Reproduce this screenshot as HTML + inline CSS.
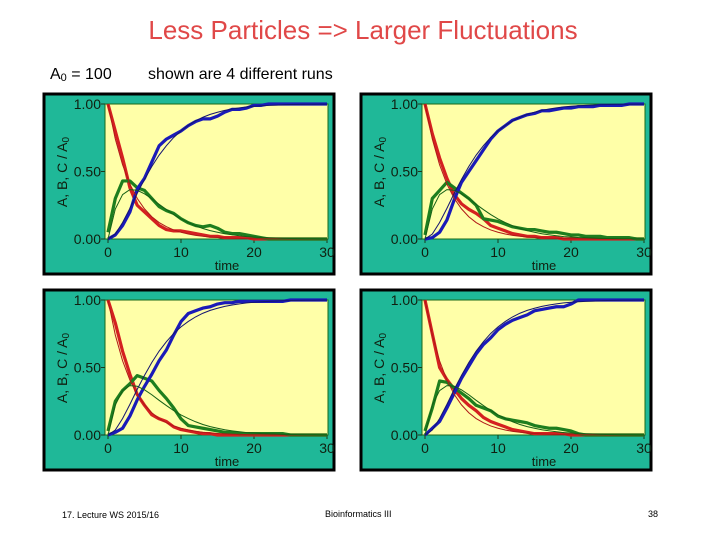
<!DOCTYPE html>
<html><head><meta charset="utf-8"><style>
html,body{margin:0;padding:0;background:#fff;width:720px;height:540px;overflow:hidden}
svg{display:block;font-family:"Liberation Sans",Arial,sans-serif}
</style></head><body>
<svg id="s" width="720" height="540" viewBox="0 0 720 540">
<text x="363" y="39" text-anchor="middle" font-size="26" fill="#e04848">Less Particles =&gt; Larger Fluctuations</text>
<text x="50" y="79" font-size="16" fill="#000">A<tspan font-size="11" dy="2">0</tspan><tspan dy="-2"> = 100</tspan></text>
<text x="148" y="79" font-size="16" fill="#000">shown are 4 different runs</text>
<text x="62" y="518" font-size="9" fill="#000">17. Lecture WS 2015/16</text>
<text x="325" y="517" font-size="9" fill="#000">Bioinformatics III</text>
<text x="648" y="517" font-size="9" fill="#000">38</text>
</svg>
<script>
const times=[0,1,2,3,4,5,6,7,8,9,10,11,12,13,14,15,16,17,18,19,20,21,22,23,24,25,26,27,28,29,30];
const xTicks=[0,10,20,30];
const yTicks=[0,0.5,1];
const yTickLabels=["0.00","0.50","1.00"];
const theoryA=[1,.741,.549,.407,.301,.223,.165,.122,.091,.067,.050,.037,.027,.020,.015,.011,.008,.006,.005,.003,.002,.002,.001,.001,.001,0,0,0,0,0,0];
const theoryB=[0,.222,.329,.366,.361,.335,.298,.257,.218,.181,.149,.122,.098,.078,.062,.050,.039,.031,.024,.018,.015,.011,.009,.007,.005,.004,.003,.002,.002,.001,.001];
const theoryC=[0,.037,.122,.227,.338,.442,.537,.621,.691,.752,.801,.841,.875,.902,.923,.939,.953,.963,.971,.979,.983,.987,.990,.992,.994,.996,.997,.998,.998,.999,.999];
const run1A=[1,.8,.6,.38,.25,.2,.15,.1,.07,.06,.06,.05,.04,.03,.02,.02,.01,.01,.01,.01,0,0,0,0,0,0,0,0,0,0,0];
const run1B=[.05,.3,.43,.43,.38,.36,.3,.24,.21,.19,.15,.12,.1,.09,.1,.08,.05,.04,.04,.03,.02,.01,0,0,0,0,0,0,0,0,0];
const run1C=[0,.03,.1,.2,.37,.45,.57,.69,.74,.77,.8,.84,.87,.89,.89,.91,.94,.96,.96,.97,.99,.99,1,1,1,1,1,1,1,1,1];
const run2A=[1,.78,.6,.45,.33,.26,.22,.19,.15,.1,.08,.06,.04,.03,.02,.02,.01,.01,.01,0,0,0,0,0,0,0,0,0,0,0,0];
const run2B=[.03,.3,.36,.42,.38,.34,.3,.25,.15,.14,.13,.11,.09,.08,.07,.07,.06,.05,.05,.04,.03,.03,.02,.02,.02,.01,.01,.01,.01,0,0];
const run2C=[0,.01,.05,.14,.29,.42,.5,.58,.66,.74,.8,.84,.88,.9,.92,.93,.95,.95,.96,.97,.97,.98,.98,.98,.99,.99,.99,.99,1,1,1];
const run3A=[1,.83,.62,.45,.3,.22,.15,.12,.1,.06,.04,.03,.02,.01,.01,0,0,0,0,0,0,0,0,0,0,0,0,0,0,0,0];
const run3B=[.03,.25,.33,.38,.44,.42,.4,.33,.27,.2,.12,.07,.06,.05,.04,.03,.02,.02,.01,.01,.01,.01,.01,.01,.01,0,0,0,0,0,0];
const run3C=[0,.02,.05,.14,.26,.36,.45,.55,.63,.74,.84,.9,.92,.94,.95,.97,.98,.98,.99,.99,.99,.99,.99,.99,.99,1,1,1,1,1,1];
const run4A=[1,.75,.5,.41,.34,.27,.22,.18,.13,.1,.08,.06,.04,.03,.02,.01,.01,.01,.01,.01,0,0,0,0,0,0,0,0,0,0,0];
const run4B=[.03,.2,.4,.39,.35,.31,.27,.22,.2,.18,.14,.12,.11,.1,.09,.07,.06,.05,.05,.04,.03,.01,0,0,0,0,0,0,0,0,0];
const run4C=[0,.05,.1,.2,.31,.42,.51,.6,.67,.72,.78,.82,.85,.87,.89,.92,.93,.94,.95,.95,.97,1,1,1,1,1,1,1,1,1,1];
const runs=[[run1A,run1B,run1C],[run2A,run2B,run2C],[run3A,run3B,run3C],[run4A,run4B,run4C]];

const NS="http://www.w3.org/2000/svg";
const svg=document.getElementById('s');
function mk(tag,attrs,parent){const e=document.createElementNS(NS,tag);for(const k in attrs)e.setAttribute(k,attrs[k]);(parent||svg).appendChild(e);return e;}
const cols=["#d42020","#1e7e1e","#1a1ab8"];
const thCols=["#b01818","#156015","#141470"];
const origins=[[0,0],[317,0],[0,196],[317,196]];
origins.forEach((o,pi)=>{
  const ox=o[0],oy=o[1];
  const g=mk('g',{});
  
  
  const frame=mk('rect',{x:44+ox,y:94+oy,width:290,height:180,fill:'#1fb898',stroke:'#000','stroke-width':3},g);
  
  
  const px0=105+ox,px1=328+ox,py0=104+oy,py1=239+oy;
  const plot=mk('rect',{x:px0,y:py0,width:px1-px0,height:py1-py0,fill:'#ffffa8',stroke:'#1a6a1a','stroke-width':1},g);
  
  
  const xs=t=>108+ox+(t/30)*(327-108);
  const ys=v=>py1-v*(py1-py0);
  yTicks.forEach((v,i)=>{
    const l=mk('line',{x1:px0-4,x2:px0,y1:ys(v),y2:ys(v),stroke:'#1a3a1a'},g);
    
    
    const t=mk('text',{x:px0-4,y:ys(v)+5,'text-anchor':'end','font-size':14,fill:'#102010'},g);
    t.textContent=yTickLabels[i];
    
    
  });
  xTicks.forEach(v=>{
    const l=mk('line',{x1:xs(v),x2:xs(v),y1:py1,y2:py1+4,stroke:'#1a3a1a'},g);
    
    
    const t=mk('text',{x:xs(v),y:py1+18,'text-anchor':'middle','font-size':14,fill:'#102010'},g);
    t.textContent=String(v);
    
    
  });
  const xt=mk('text',{x:227+ox,y:270+oy,'text-anchor':'middle','font-size':13,fill:'#102010'},g);
  xt.textContent='time';
  
  
  const yt=mk('text',{x:0,y:0,'text-anchor':'middle','font-size':14,fill:'#102010',transform:`translate(${67+ox},${172+oy}) rotate(-90)`},g);
  yt.innerHTML='A, B, C / A<tspan font-size="10" dy="2">0</tspan>';
  
  
  const pts=arr=>arr.map((v,i)=>xs(times[i])+','+ys(v)).join(' ');
  runs[pi].forEach((arr,si)=>{
    const pl=mk('polyline',{points:pts(arr),fill:'none',stroke:cols[si],'stroke-width':3.2,'stroke-linejoin':'round'},g);
    
    
  });
  [theoryA,theoryB,theoryC].forEach((arr,si)=>{
    const pl=mk('polyline',{points:pts(arr),fill:'none',stroke:thCols[si],'stroke-width':1},g);
    
    
  });
});
</script>
</body></html>
